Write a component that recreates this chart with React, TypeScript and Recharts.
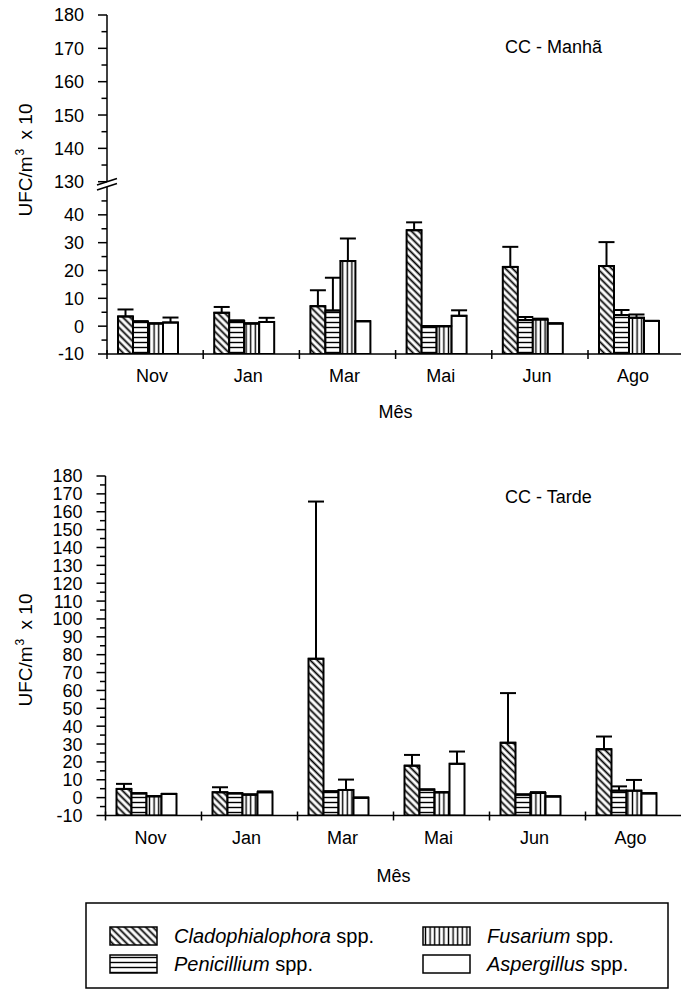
import React from 'react';
import { BarChart, Bar, XAxis, YAxis, ErrorBar } from 'recharts';

const months = ['Nov', 'Jan', 'Mar', 'Mai', 'Jun', 'Ago'];

// CC - Manhã
const cladoManha = [3.5, 4.8, 7.2, 34.5, 21.3, 21.6];
const cladoManhaErr = [2.5, 2.1, 5.7, 2.8, 7.2, 8.6];
const peniManha = [1.6, 1.9, 5.6, 0, 2.2, 4.0];
const peniManhaErr = [0.2, 0.2, 11.8, 0, 1.1, 1.8];
const fusaManha = [1.0, 1.0, 23.4, 0, 2.4, 3.0];
const fusaManhaErr = [0, 0, 8.1, 0, 0.3, 1.2];
const aspeManha = [1.3, 1.5, 1.8, 3.7, 1.0, 1.9];
const aspeManhaErr = [1.8, 1.5, 0, 2.0, 0, 0];

// CC - Tarde
const cladoTarde = [4.9, 3.0, 77.7, 17.9, 30.7, 27.1];
const cladoTardeErr = [2.8, 2.8, 88, 6, 27.8, 7.1];
const peniTarde = [2.4, 2.4, 3.5, 4.5, 1.7, 3.9];
const peniTardeErr = [0, 0, 0, 0, 0, 2.4];
const fusaTarde = [0.8, 1.7, 4.3, 3.0, 2.6, 3.9];
const fusaTardeErr = [0, 0, 5.8, 0, 0.5, 6];
const aspeTarde = [2.1, 3.0, 0, 18.9, 0.7, 2.4];
const aspeTardeErr = [0, 0.5, 0, 6.9, 0, 0];

const ticksManhaUpper = [130, 135, 140, 145, 150, 155, 160, 165, 170, 175, 180];
const ticksManhaLower = [-10, -5, 0, 5, 10, 15, 20, 25, 30, 35, 40, 45];
const ticksTarde = [
  -10, -5, 0, 5, 10, 15, 20, 25, 30, 35, 40, 45, 50, 55, 60, 65, 70, 75, 80, 85,
  90, 95, 100, 105, 110, 115, 120, 125, 130, 135, 140, 145, 150, 155, 160, 165,
  170, 175, 180,
];

const species = [
  { key: 'clado', name: 'Cladophialophora', pattern: 'diag' },
  { key: 'peni', name: 'Penicillium', pattern: 'horiz' },
  { key: 'fusa', name: 'Fusarium', pattern: 'vert' },
  { key: 'aspe', name: 'Aspergillus', pattern: 'none' },
];

const BASE = -10; // bars start at the bottom of the axis
const FONT = '"Liberation Sans", Arial, sans-serif';
const FS = 18;
const SHIFT = 7; // bars sit slightly left of the category centre

const buildRows = (c: number[], ce: number[], p: number[], pe: number[], f: number[], fe: number[], a: number[], ae: number[]) =>
  months.map((m, i) => ({
    month: m,
    clado: [BASE, c[i]], cladoErr: [0, ce[i]],
    peni: [BASE, p[i]], peniErr: [0, pe[i]],
    fusa: [BASE, f[i]], fusaErr: [0, fe[i]],
    aspe: [BASE, a[i]], aspeErr: [0, ae[i]],
  }));

const manhaRows = buildRows(cladoManha, cladoManhaErr, peniManha, peniManhaErr, fusaManha, fusaManhaErr, aspeManha, aspeManhaErr);
const tardeRows = buildRows(cladoTarde, cladoTardeErr, peniTarde, peniTardeErr, fusaTarde, fusaTardeErr, aspeTarde, aspeTardeErr);

const Patterns = ({ id }: { id: string }) => (
  <defs>
    <pattern id={`diag-${id}`} width="5" height="5" patternUnits="userSpaceOnUse" patternTransform="rotate(-45)">
      <rect width="5" height="5" fill="#fff" />
      <line x1="2.5" y1="-1" x2="2.5" y2="6" stroke="#000" strokeWidth="1.8" />
    </pattern>
    <pattern id={`horiz-${id}`} width="5" height="5" patternUnits="userSpaceOnUse">
      <rect width="5" height="5" fill="#fff" />
      <line x1="-1" y1="2.5" x2="6" y2="2.5" stroke="#000" strokeWidth="1.4" />
    </pattern>
    <pattern id={`vert-${id}`} width="4.6" height="5" patternUnits="userSpaceOnUse">
      <rect width="4.6" height="5" fill="#fff" />
      <line x1="2.3" y1="-1" x2="2.3" y2="6" stroke="#000" strokeWidth="1.4" />
    </pattern>
  </defs>
);

const fillOf = (pattern: string, id: string) => (pattern === 'none' ? '#fff' : `url(#${pattern}-${id})`);

const YTick = (props: any) => {
  const { x, y, payload } = props;
  const v = payload.value;
  const major = v % 10 === 0;
  return (
    <g>
      <line x1={x - (major ? 9 : 5.5)} x2={x} y1={y} y2={y} stroke="#000" strokeWidth={1.5} />
      {major && (
        <text x={x - 23} y={y} dy="0.36em" textAnchor="end" fontSize={FS} fontFamily={FONT} fill="#000">
          {v}
        </text>
      )}
    </g>
  );
};

const makeXTick = (band: number) => (props: any) => {
  const { x, y, payload } = props;
  const edge = x - band / 2 + SHIFT;
  return (
    <g>
      <line x1={edge} x2={edge} y1={y - 4} y2={y + 5} stroke="#000" strokeWidth={1.5} />
      <text x={x + 4} y={y + 28} textAnchor="middle" fontSize={FS} fontFamily={FONT} fill="#000">
        {payload.value}
      </text>
    </g>
  );
};

const mesLabel = (dy: number) => (p: any) => {
  const vb = p.viewBox || {};
  return (
    <text x={vb.x + vb.width / 2} y={vb.y + dy} textAnchor="middle" fontSize={FS} fontFamily={FONT} fill="#000">
      Mês
    </text>
  );
};

const errKey = (key: string) => (d: any) => (d && d.payload ? d.payload : d)[`${key}Err`];

const renderBars = (id: string) =>
  species.map((s) => (
    <Bar
      key={s.key}
      dataKey={s.key}
      fill={fillOf(s.pattern, id)}
      stroke="#000"
      strokeWidth={2}
      isAnimationActive={false}
    >
      <ErrorBar dataKey={errKey(s.key)} direction="y" width={8} stroke="#000" strokeWidth={2} />
    </Bar>
  ));

const abs: React.CSSProperties = { position: 'absolute', left: 0, top: 0 };

export default function App() {
  const bandTop = 577.2 / 6;
  const bandBottom = 576 / 6;
  return (
    <div style={{ position: 'absolute', left: 0, top: 0, width: 681, height: 991, overflow: 'hidden', background: '#fff' }}>
      {/* CC - Manhã, upper segment of the broken axis */}
      <div style={abs}>
        <BarChart width={700} height={200} data={manhaRows} margin={{ top: 15, right: 15.8, bottom: 18.3, left: 47 }}>
          <XAxis dataKey="month" hide />
          <YAxis
            domain={[130, 180]}
            ticks={ticksManhaUpper}
            interval={0}
            allowDataOverflow
            width={60}
            tickSize={0}
            tickMargin={0}
            tickLine={false}
            axisLine={{ stroke: '#000', strokeWidth: 1.5 }}
            tick={<YTick />}
          />
        </BarChart>
      </div>

      {/* CC - Manhã, lower segment */}
      <div style={abs}>
        <BarChart
          width={700}
          height={440}
          data={manhaRows}
          margin={{ top: 187, right: 15.8, bottom: 6, left: 47 }}
          barSize={15}
          barGap={0}
        >
          <Patterns id="m" />
          <XAxis
            dataKey="month"
            height={80}
            padding={{ left: -SHIFT, right: SHIFT }}
            interval={0}
            tickSize={0}
            tickMargin={0}
            tickLine={false}
            axisLine={{ stroke: '#000', strokeWidth: 1.5 }}
            tick={makeXTick(bandTop)}
            label={mesLabel(64)}
          />
          <YAxis
            domain={[-10, 50]}
            ticks={ticksManhaLower}
            interval={0}
            allowDataOverflow
            width={60}
            tickSize={0}
            tickMargin={0}
            tickLine={false}
            axisLine={{ stroke: '#000', strokeWidth: 1.5 }}
            tick={<YTick />}
          />
          {renderBars('m')}
        </BarChart>
      </div>

      {/* CC - Tarde */}
      <div style={abs}>
        <BarChart
          width={700}
          height={920}
          data={tardeRows}
          margin={{ top: 476, right: 18.5, bottom: 24.5, left: 45.5 }}
          barSize={15}
          barGap={0}
        >
          <Patterns id="t" />
          <XAxis
            dataKey="month"
            height={80}
            padding={{ left: -SHIFT, right: SHIFT }}
            interval={0}
            tickSize={0}
            tickMargin={0}
            tickLine={false}
            axisLine={{ stroke: '#000', strokeWidth: 1.5 }}
            tick={makeXTick(bandBottom)}
            label={mesLabel(66)}
          />
          <YAxis
            domain={[-10, 180]}
            ticks={ticksTarde}
            interval={0}
            allowDataOverflow
            width={60}
            tickSize={0}
            tickMargin={0}
            tickLine={false}
            axisLine={{ stroke: '#000', strokeWidth: 1.5 }}
            tick={<YTick />}
          />
          {renderBars('t')}
        </BarChart>
      </div>

      {/* titles, axis titles, axis break and legend */}
      <svg width={681} height={991} style={{ ...abs, pointerEvents: 'none' }} fontFamily={FONT}>
        <Patterns id="lg" />
        <text x={505} y={53} fontSize={FS} fill="#000">CC - Manhã</text>
        <text x={505} y={503} fontSize={FS} fill="#000">CC - Tarde</text>

        {[160, 650].map((cy) => (
          <text key={cy} x={32} y={cy} transform={`rotate(-90, 32, ${cy})`} textAnchor="middle" fontSize={19} fill="#000">
            UFC/m<tspan dy={-8} dx={1} fontSize={12}>3</tspan>
            <tspan dy={8} dx={4}> x 10</tspan>
          </text>
        ))}

        <line x1={97} y1={185} x2={117} y2={178.5} stroke="#000" strokeWidth={1.5} />
        <line x1={97} y1={190} x2={117} y2={183.5} stroke="#000" strokeWidth={1.5} />

        <rect x={86} y={903} width={582} height={85} fill="none" stroke="#000" strokeWidth={1.5} />
        {species.map((s, i) => {
          const col = Math.floor(i / 2);
          const row = i % 2;
          const sx = col === 0 ? 110 : 423;
          const sy = row === 0 ? 927 : 955;
          return (
            <g key={s.key}>
              <rect x={sx} y={sy} width={47} height={18} fill={fillOf(s.pattern, 'lg')} stroke="#000" strokeWidth={1.5} />
              <text x={sx + 64} y={sy + 16} fontSize={20} fill="#000">
                <tspan fontStyle="italic">{s.name}</tspan> spp.
              </text>
            </g>
          );
        })}
      </svg>
    </div>
  );
}
